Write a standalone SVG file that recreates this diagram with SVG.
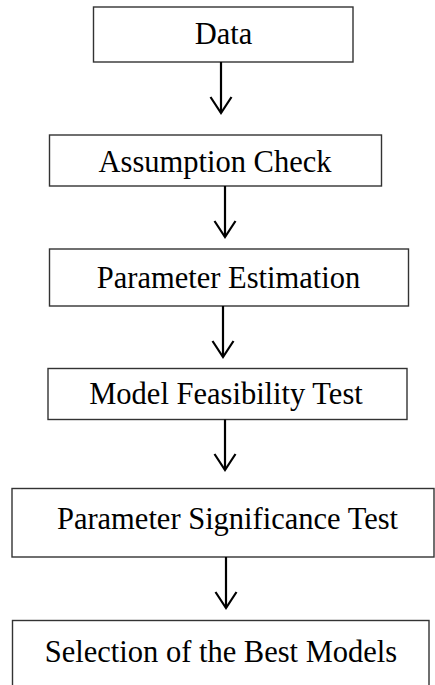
<svg xmlns="http://www.w3.org/2000/svg" width="435" height="685" viewBox="0 0 435 685">
<defs>
<marker id="vhead" markerUnits="userSpaceOnUse" markerWidth="22" markerHeight="26" refX="18" refY="13" orient="auto" viewBox="0 0 22 26">
<path d="M2,2.5 L18,13 L2,23.5" fill="none" stroke="#000" stroke-width="2.2"/>
</marker>
<style>
.box{fill:#fff;stroke:#333;stroke-width:1.4}
.lbl{font-family:"Liberation Serif","Times New Roman",serif;font-size:30.5px;fill:#000;text-anchor:middle}
.conn line{stroke:#000;stroke-width:2.2;marker-end:url(#vhead)}
</style>
</defs>
<rect width="435" height="685" fill="#fff"/>
<g id="n1"><rect class="box" x="93.5" y="7" width="259.5" height="55"/><text class="lbl" x="223.5" y="44">Data</text></g>
<g id="n2"><rect class="box" x="49.5" y="135" width="332" height="51"/><text class="lbl" x="215" y="172">Assumption Check</text></g>
<g id="n3"><rect class="box" x="49.5" y="249" width="359" height="57"/><text class="lbl" x="228.5" y="288">Parameter Estimation</text></g>
<g id="n4"><rect class="box" x="48" y="368.5" width="359" height="51"/><text class="lbl" x="226" y="404">Model Feasibility Test</text></g>
<g id="n5"><rect class="box" x="12" y="488.5" width="422" height="68.5"/><text class="lbl" x="227.5" y="529">Parameter Significance Test</text></g>
<g id="n6"><rect class="box" x="12.5" y="620.5" width="416.5" height="80"/><text class="lbl" x="221" y="662">Selection of the Best Models</text></g>
<g id="connectors" class="conn">
<line x1="221" y1="62" x2="221" y2="113"/>
<line x1="225" y1="186" x2="225" y2="237"/>
<line x1="223" y1="306" x2="223" y2="357"/>
<line x1="225" y1="419.5" x2="225" y2="470"/>
<line x1="226" y1="557" x2="226" y2="608"/>
</g>
</svg>
